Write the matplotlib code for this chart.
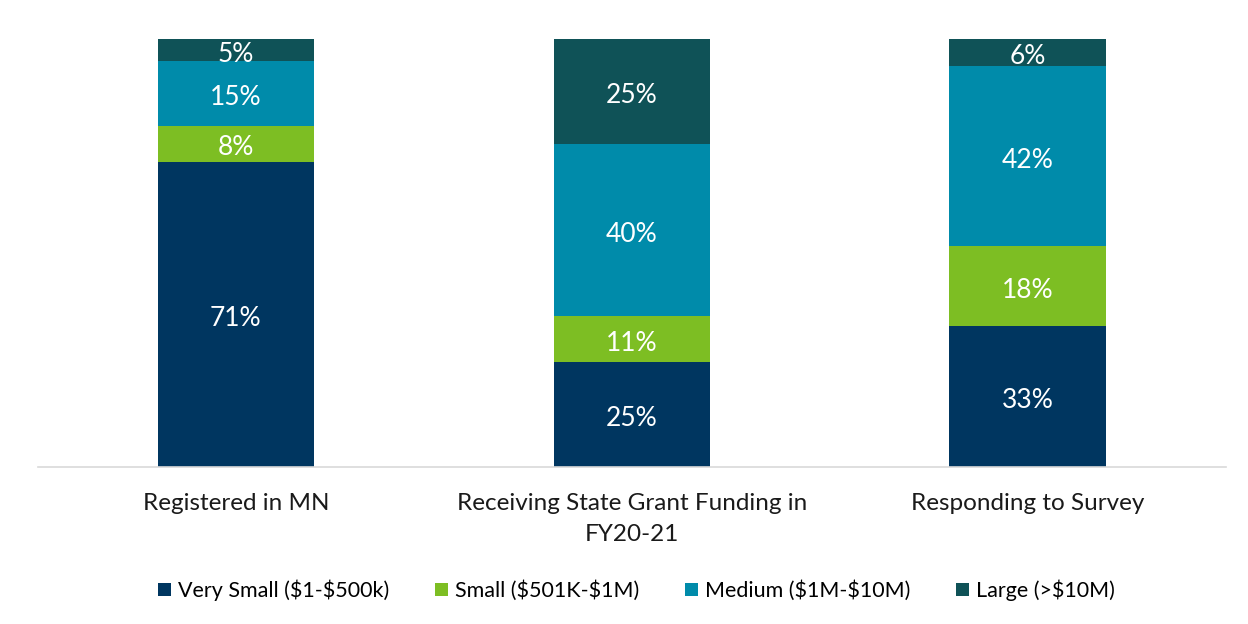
import matplotlib
matplotlib.use('Agg')
import numpy as np
import matplotlib.pyplot as plt
import matplotlib.transforms as mtransforms
from matplotlib.patches import Patch

plt.rcParams['font.family'] = ['Lato', 'DejaVu Sans']
plt.rcParams['text.parse_math'] = False

# categorias e valores (%)
categorias = ['Registered in MN', 'Receiving State Grant Funding in\nFY20-21', 'Responding to Survey']
series = ['Very Small ($1-$500k)', 'Small ($501K-$1M)', 'Medium ($1M-$10M)', 'Large (>$10M)']
very_small = [71.3, 24.6, 32.9]
small = [8.4, 10.6, 18.7]
medium = [15.2, 40.3, 42.1]
large = [5.1, 24.5, 6.3]
rotulos = [['71%', '25%', '33%'],
           ['8%', '11%', '18%'],
           ['15%', '40%', '42%'],
           ['5%', '25%', '6%']]
cores = ['#003660', '#7DBE23', '#008BAA', '#0F5257']

fig = plt.figure(figsize=(12.48, 6.24), dpi=100)
ax = fig.add_axes([0.0304, 0.2516, 0.9516, 0.686])
trans = mtransforms.offset_copy(ax.transData, fig=fig, x=0, y=-3, units='points')

x = np.arange(len(categorias))
base = np.zeros(len(categorias))
for i, vals in enumerate([very_small, small, medium, large]):
    vals = np.array(vals)
    ax.bar(x, vals, 0.395, bottom=base, color=cores[i], edgecolor='none')
    for j in range(len(x)):
        ax.text(x[j], base[j] + vals[j] / 2, rotulos[i][j], ha='center', va='center',
                color='white', fontsize=19, transform=trans)
    base = base + vals

ax.set_xlim(-0.5, 2.5)
ax.set_ylim(0, 100)
ax.set_yticks([])
ax.set_xticks(x)
ax.set_xticklabels(categorias, fontsize=17.5, color='#1a1a1a', linespacing=1.55)
ax.tick_params(axis='x', length=0, pad=19)
for s in ['top', 'right', 'left']:
    ax.spines[s].set_visible(False)
ax.spines['bottom'].set_color('#D9D9D9')
ax.spines['bottom'].set_linewidth(1.2)

handles = [Patch(facecolor=c, edgecolor='none') for c in cores]
fig.legend(handles, series, loc='center', bbox_to_anchor=(0.51, 0.054), ncol=4,
           frameon=False, fontsize=15.5, handlelength=0.6, handleheight=0.6,
           handletextpad=0.3, columnspacing=2.15)

fig.savefig('out.png', dpi=100)
